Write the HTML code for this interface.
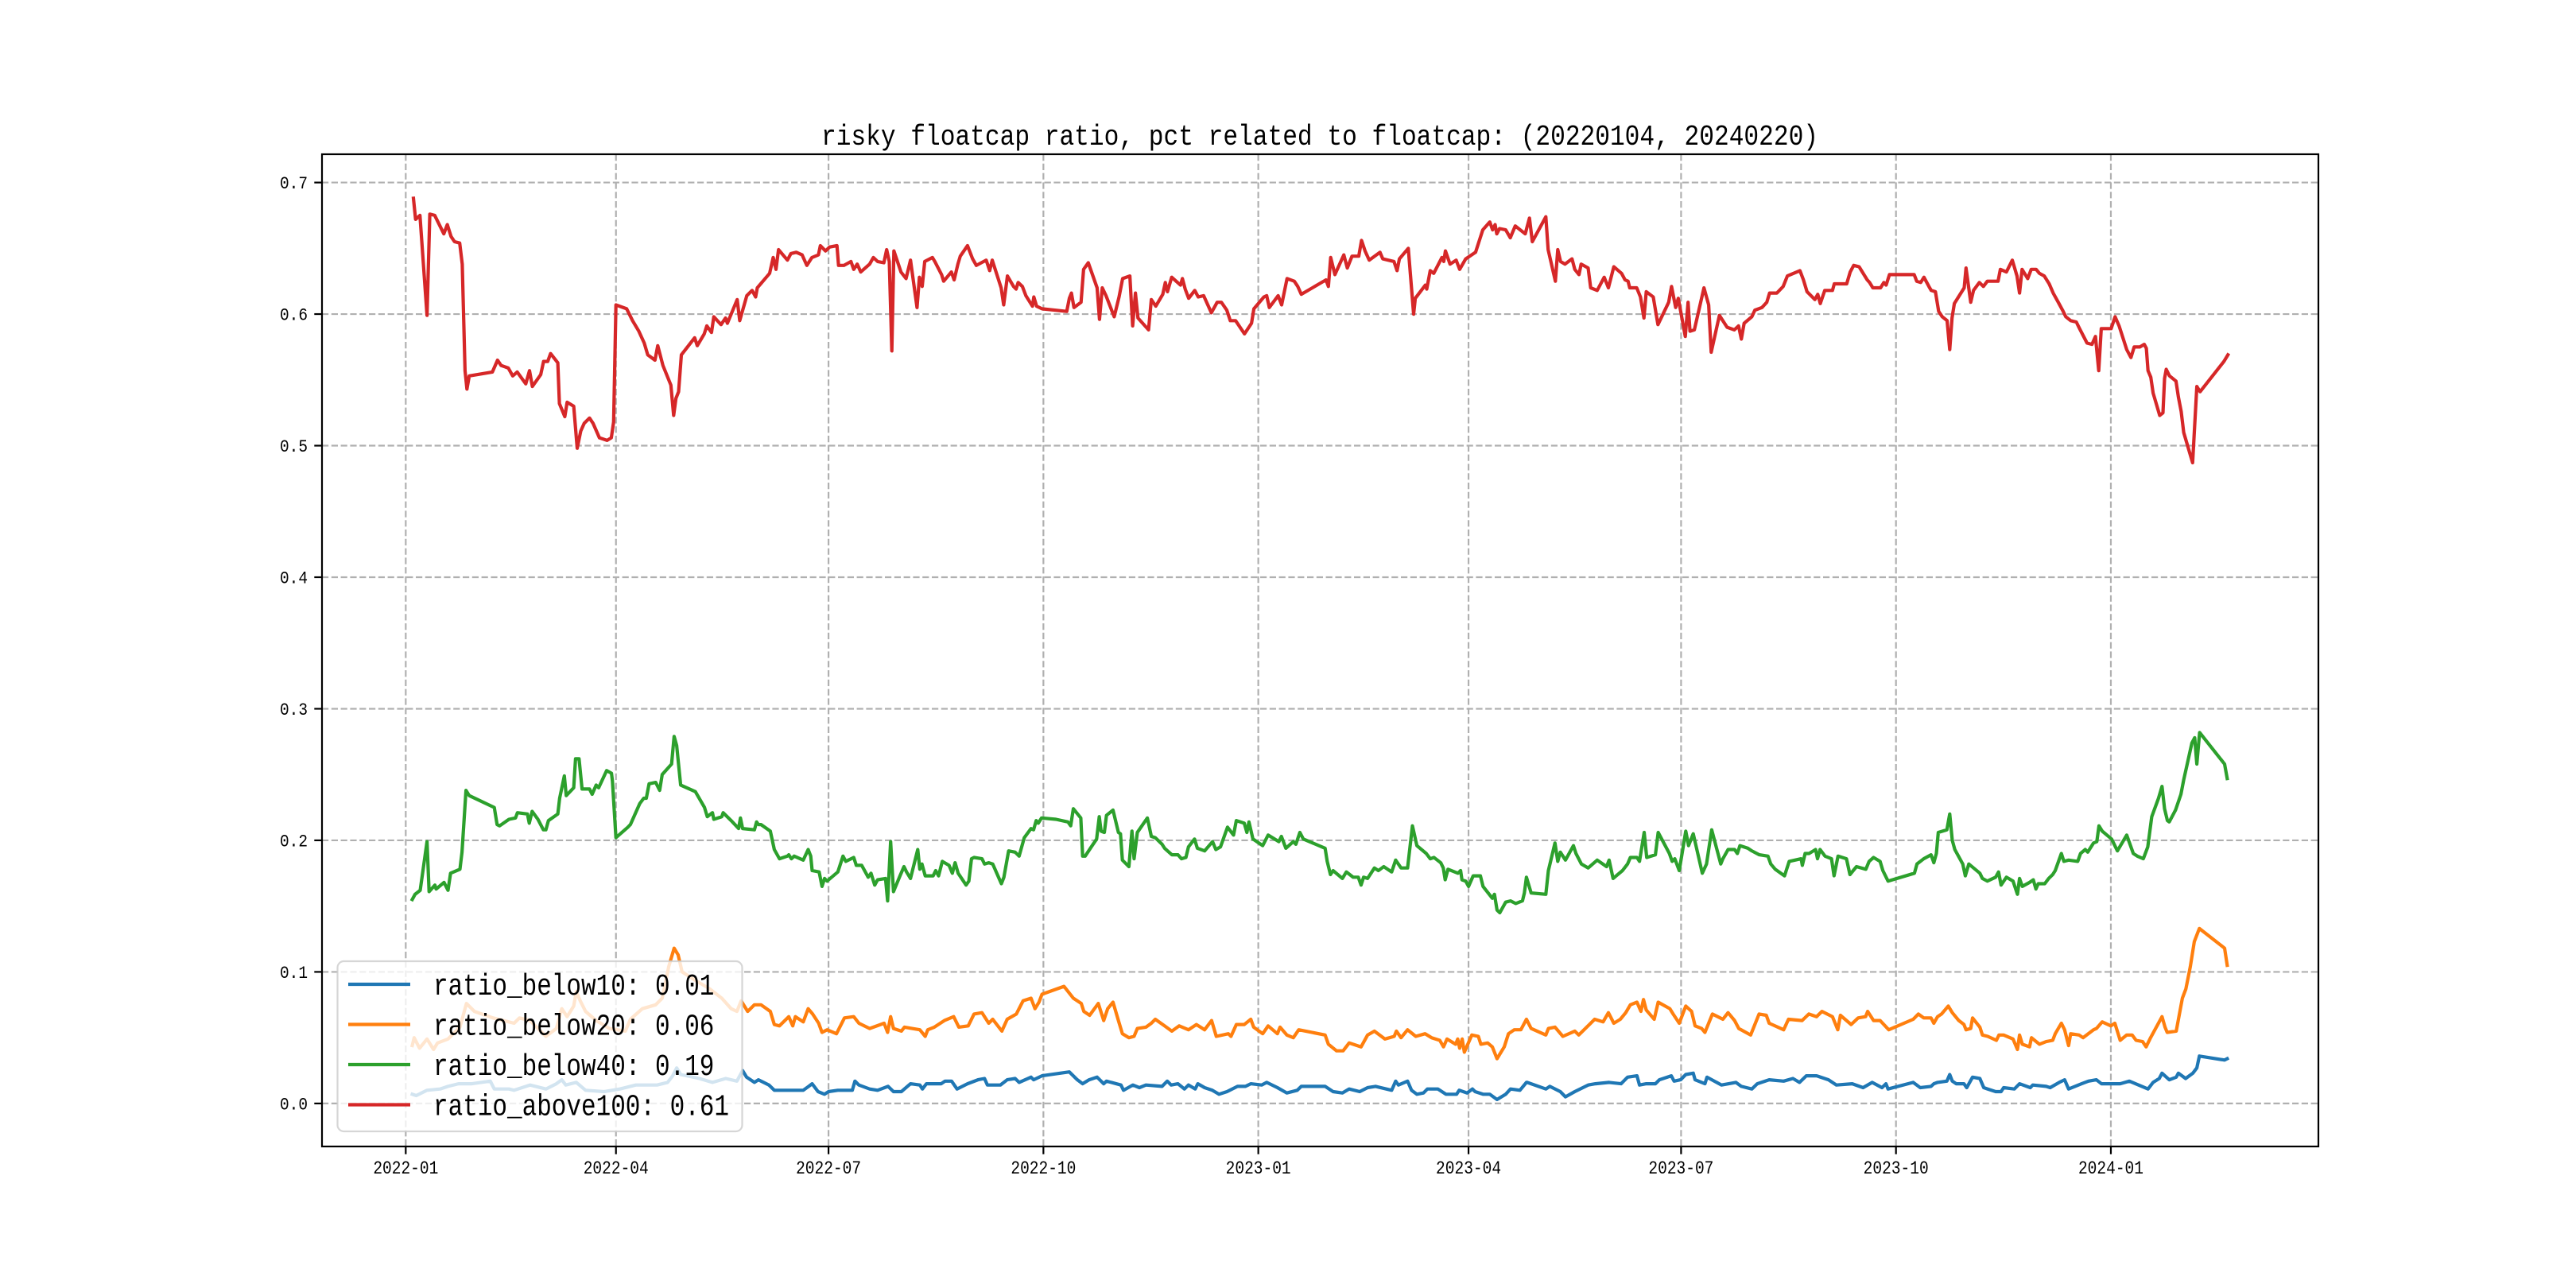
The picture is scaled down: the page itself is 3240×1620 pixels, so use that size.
<!DOCTYPE html>
<html><head><meta charset="utf-8"><style>
html,body{margin:0;padding:0;background:#fff;}
svg{display:block;}
text{font-family:"Liberation Mono","Noto Sans CJK SC",monospace;fill:#000;}
</style></head><body>
<svg id="chart" xmlns="http://www.w3.org/2000/svg" width="3240" height="1620" viewBox="0 0 3240 1620">
<rect x="0" y="0" width="3240" height="1620" fill="#fff"/>
<g id="grid"></g>
<g id="series"></g>
<g id="axes"></g>
<text x="1660" y="182" text-anchor="middle" font-size="36" textLength="1254" lengthAdjust="spacingAndGlyphs">risky floatcap ratio, pct related to floatcap: (20220104, 20240220)</text>
<g id="legend"></g>
</svg>
<script>
// x data: days since 2022-01-01; y data: ratio
const yTicks = [0.0, 0.1, 0.2, 0.3, 0.4, 0.5, 0.6, 0.7];
const yTickLabels = ["0.0","0.1","0.2","0.3","0.4","0.5","0.6","0.7"];
const xTickDays = [0, 90, 181, 273, 365, 455, 546, 638, 730];
const xTickLabels = ["2022-01","2022-04","2022-07","2022-10","2023-01","2023-04","2023-07","2023-10","2024-01"];
const seriesNames = ["ratio_below10", "ratio_below20", "ratio_below40", "ratio_above100"];
const lastValueLabels = ["0.01", "0.06", "0.19", "0.61"];

const below10 = [[2.8,.007],[4.5,.006],[9.1,.010],[14.7,.011],[18.1,.013],[22.6,.015],[28.3,.015],[36.2,.017],[37.9,.011],[44.2,.011],[46.4,.010],[53.2,.014],[60,.011],[64.5,.015],[66.8,.018],[68.5,.014],[73,.016],[77,.010],[84.9,.009],[91.7,.011],[98.5,.014],[107.6,.014],[112.1,.016],[114.3,.021],[116,.027],[117.7,.022],[125.7,.019],[131.3,.016],[137,.019],
[141.8,.017],[144.2,.025],[145.9,.020],[149.3,.016],[151,.018],[155.5,.014],[157.8,.010],[163.4,.010],[170.2,.010],[172.5,.013],[174,.015],[176.5,.009],[179.3,.007],[181,.009],[185,.010],[191.2,.010],[192.3,.017],[194,.014],[198.6,.011],[202,.010],[206.5,.013],[208.8,.009],[212.2,.009],[216.1,.015],[220.1,.014],[221.2,.011],[222.9,.015],[229.2,.015],[230.9,.017],[233.7,.017],[236,.011],[240.5,.015],[245,.018],[247.8,.019],[249,.014],[254.6,.014],[257.5,.018],[260.9,.019],[262.6,.016],[267.7,.020],[268.8,.018],[272.4,.021],[284.1,.024],[287.5,.018],[289.8,.015],[292.6,.018],[296,.020],[298.8,.015],[300,.017],[306.2,.014],[307.3,.010],
[311.3,.014],[314.1,.012],[316.9,.014],[323.8,.013],[326,.017],[327.7,.014],[330.6,.015],[333.4,.011],[335.1,.014],[338,.011],[339.1,.015],[342,.012],[345.3,.010],[348.2,.007],[351.6,.009],[356.1,.013],[359.5,.013],[361.8,.015],[366.4,.014],[368.6,.016],[373.2,.012],[377.2,.008],[381.7,.010],[383.4,.013],[393.6,.013],[397,.009],[401,.008],[403.9,.011],[408.4,.009],[411.8,.012],[415.2,.013],[422.1,.010],[423.8,.017],[425,.014],[428.9,.017],[430.6,.010],[432.9,.007],[435.7,.008],[437.4,.011],[441.9,.011],[445.3,.007],[449.9,.007],[451,.010],[454.4,.008],[456.7,.011],[457.8,.009],[461.2,.007],[464.1,.007],[467.2,.003],[470.9,.007],[473,.011],[477,.010],[479.8,.016],
[480.1,.016],[488.1,.011],[489.8,.013],[494.3,.009],[496.5,.005],[500.5,.009],[506.2,.014],[509.3,.015],[515.2,.016],[520.3,.015],[523.1,.020],[527.1,.021],[528.2,.014],[531.1,.015],[535,.015],[536.7,.018],[541.8,.021],[543,.017],[545.8,.018],[548,.022],[551.2,.023],[552,.018],[556.2,.015],[557.1,.020],[563.3,.014],[569.5,.016],[571.8,.013],[576.3,.011],[578.6,.015],[583.7,.018],[589.9,.017],[593.9,.019],[596.7,.016],[599.6,.021],[604,.021],[609.1,.018],[612.5,.014],[619.3,.015],[623.9,.012],[627.8,.016],[632,.012],[633.7,.015],[634.6,.011],[645.4,.016],[648.4,.012],
[653,.013],[654.2,.015],[655.8,.016],[659.8,.017],[661,.022],[662.1,.017],[663.8,.015],[667.1,.015],[668.3,.012],[670.8,.020],[673.9,.019],[675.6,.012],[677.3,.011],[680.7,.009],[683,.009],[684.1,.012],[688.7,.011],[690.9,.015],[695.5,.012],[696.6,.014],[702.3,.013],[704,.012],[707.9,.016],[710.2,.018],[711.9,.011],[717.5,.015],[720.4,.017],[723.8,.018],[726,.015],[730,.015],[734,.015],[737.9,.017],[745.9,.011],[748.1,.016],[750.7,.019],[751.9,.023],[755,.018],[758,.020],[758.9,.023],[762,.019],[765.1,.023],[766.8,.027],[767.9,.036],[778.7,.033],[779.8,.034]];

const below20 = [[2.8,.044],[3.6,.050],[5.9,.042],[9.1,.049],[11.9,.041],[13.6,.046],[18.1,.049],[23.2,.058],[26,.076],[29.4,.070],[37.4,.065],[46.4,.061],[48.7,.065],[53.2,.063],[57.7,.055],[60,.051],[64.5,.057],[66.8,.072],[69.1,.066],[71.9,.074],[73,.085],[74.7,.078],[77,.070],[81.5,.063],[87.2,.057],[94,.055],[96.2,.064],[101.3,.072],[107,.075],[109.8,.080],[112.6,.104],[114.9,.118],[116.6,.113],[118.3,.100],[124.5,.093],[130.2,.087],[135.3,.080],[139.3,.072],
[141.8,.070],[143.6,.078],[146.4,.070],[149.3,.075],[152.1,.075],[156.1,.070],[157.8,.060],[160,.059],[164,.066],[165.7,.059],[166.8,.066],[170.2,.062],[172.3,.072],[174.2,.068],[176.8,.061],[178.2,.054],[180.4,.056],[184.4,.053],[187.8,.065],[191.8,.066],[194,.061],[198.6,.057],[204.8,.061],[206.3,.054],[207.6,.066],[208.8,.057],[212.2,.055],[213.5,.058],[220.1,.056],[222.4,.051],[223.5,.056],[226.3,.058],[230.6,.063],[234.6,.066],[236.8,.058],[240.8,.059],[243.3,.068],[246.7,.069],[249.6,.061],[251.3,.064],[255.2,.055],[257.5,.064],[261.4,.068],[264.3,.078],[267.7,.080],[269.4,.072],[271.1,.077],[272.4,.083],[281.8,.089],[285.8,.080],[289.2,.076],[290.3,.070],[292.8,.067],[296.5,.076],[298.8,.063],[300.5,.072],[302.8,.077],[305.1,.063],[306.8,.053],[309.6,.050],
[311.8,.051],[313.2,.057],[316.9,.058],[319.2,.061],[320.9,.064],[324.9,.059],[328,.055],[331.1,.059],[335.1,.056],[338.5,.060],[342,.056],[345,.063],[347,.051],[352.2,.053],[353.3,.051],[355.6,.060],[359,.060],[361.8,.064],[363,.058],[366.9,.053],[369.2,.059],[373.2,.053],[374.3,.058],[377.2,.052],[380,.050],[382.3,.056],[393.6,.052],[395,.045],[398.5,.040],[401.3,.040],[403.9,.046],[409,.043],[411.8,.052],[414.7,.055],[419.2,.049],[423.2,.051],[424.1,.055],[426.1,.050],[428.9,.056],[432.4,.051],[436.4,.053],[439.2,.050],[442.7,.048],[444.3,.043],[445.8,.049],[449.5,.045],[450.4,.049],[451.2,.042],[452.3,.049],[453.2,.039],[456.4,.052],[459.2,.051],[460.3,.045],[463.2,.046],[465.2,.043],[467.2,.034],[470.3,.043],[472.1,.053],[474.6,.056],[477.4,.056],[479.8,.064],
[481.8,.057],[488.1,.052],[489.2,.057],[492,.058],[495.4,.051],[500.5,.055],[502.2,.052],[507.3,.061],[509,.064],[512.6,.062],[514.9,.069],[517.2,.061],[520,.064],[522.3,.069],[524.3,.075],[527.1,.077],[528.8,.070],[529.9,.079],[531.1,.071],[534.5,.064],[536.2,.077],[541.2,.072],[542.6,.068],[545.2,.061],[548,.074],[550.5,.070],[552,.059],[554.8,.057],[556.2,.054],[559.4,.068],[563.9,.064],[566.1,.069],[568.9,.063],[570.7,.057],[575.8,.052],[579.4,.068],[582.5,.067],[583.7,.061],[589.9,.056],[592,.064],[597.8,.063],[600.7,.068],[604,.066],[606.3,.070],[610.8,.066],[613.1,.056],[614.2,.067],[618.8,.060],[621.8,.065],[625,.066],[625.9,.070],[628.4,.063],[631.2,.063],[634.9,.056],[645.4,.064],[647.6,.068],[649.9,.065],
[653,.065],[654.2,.061],[655.8,.066],[657.5,.068],[660.4,.074],[662.1,.069],[664.9,.063],[667.1,.060],[668,.056],[670,.057],[670.8,.065],[673.9,.058],[675,.052],[677.3,.051],[681,.048],[682.1,.052],[684.1,.052],[688.1,.049],[690,.041],[690.9,.052],[692.1,.045],[695.2,.043],[696,.050],[699.4,.045],[702.3,.047],[705.1,.048],[706.2,.053],[708.8,.061],[710.2,.056],[711.9,.044],[712.8,.053],[716.4,.052],[718.1,.050],[722.6,.056],[723.8,.057],[726.3,.062],[730,.059],[731.7,.061],[734,.048],[736.8,.052],[739.1,.052],[740.8,.048],[743.6,.047],[745.1,.043],[747,.050],[751.9,.066],[753.2,.058],[754.1,.054],[758,.055],[760.6,.080],[762.1,.087],[764,.104],[765.7,.123],[767.9,.133],[778.7,.118],[779.8,.105]];

const below40 = [[2.8,.155],[4,.159],[6.2,.162],[9.1,.199],[10,.161],[12.5,.166],[13,.163],[16.4,.168],[18.1,.162],[19.2,.175],[23.2,.178],[24.1,.191],[25.8,.238],[27.2,.234],[37.9,.225],[39.1,.212],[40.2,.211],[44.2,.216],[47,.217],[47.8,.221],[52.1,.220],[52.9,.213],[54.1,.222],[56.6,.216],[58.9,.208],[60,.208],[61.1,.215],[65.1,.220],[65.9,.232],[67.9,.249],[68.7,.234],[71.9,.240],[72.7,.262],[74.2,.262],[75.5,.239],[78.7,.239],[79.8,.235],[81.5,.242],[82.6,.240],[86,.253],[88.1,.251],[88.5,.245],[90,.202],[95.1,.210],[96.2,.212],[100.2,.228],[101.9,.232],[103,.232],[104.2,.243],[107,.244],[108.7,.238],[109.8,.250],[113.8,.258],[114.9,.279],[116,.272],[117.7,.242],[124,.237],[127.9,.225],[129.1,.218],[131.3,.221],[131.9,.216],[135.3,.218],[135.9,.221],[139.3,.215],
[142.5,.209],[143.3,.217],[144.2,.209],[149.3,.208],[150.2,.214],[151,.212],[152.1,.212],[156.1,.207],[157.8,.193],[160,.186],[163.4,.188],[164,.189],[165.1,.186],[166.3,.188],[170.2,.185],[172.3,.193],[173.4,.188],[174,.177],[177,.176],[178.2,.165],[179.3,.171],[180.4,.169],[185,.176],[187.2,.188],[188.4,.184],[191.8,.187],[192.9,.181],[195.2,.181],[198,.172],[199.2,.175],[200.8,.166],[202,.170],[205.4,.171],[206.3,.154],[207.6,.199],[208.8,.161],[211.6,.173],[213.3,.180],[214.4,.176],[216.1,.171],[219.2,.193],[220.1,.178],[221,.182],[222.4,.173],[225.8,.173],[226.9,.177],[228.1,.173],[229.7,.184],[232.6,.181],[234,.175],[235.2,.183],[236.5,.175],[239.9,.166],[241.1,.169],[242.2,.186],[243.3,.187],[246.7,.186],[247.8,.182],[249.6,.183],[251.3,.182],[255,.167],[256.1,.172],[258.1,.192],[260.9,.191],[262.6,.188],[264.8,.202],[267.7,.209],[268.8,.208],[269.9,.215],[270.8,.213],[272.2,.217],[278.4,.216],[283.5,.214],[284.7,.211],[285.8,.224],[289,.217],[289.8,.188],[290.9,.188],[293.5,.195],[295.8,.201],[296.9,.218],[297.7,.207],[299.1,.206],[300,.219],[302.8,.223],[305.1,.206],[306,.205],[306.8,.185],[309.6,.180],
[310.9,.207],[311.8,.186],[313.2,.206],[317.5,.217],[318.1,.212],[319.2,.203],[320.9,.202],[323.8,.197],[324.9,.194],[328,.189],[330.6,.189],[332.1,.186],[334,.187],[335.1,.195],[337.7,.201],[338.9,.194],[342,.192],[345.4,.199],[346.8,.193],[348.8,.195],[351.8,.210],[354.4,.204],[355.6,.215],[359,.213],[360.1,.206],[361,.214],[362.7,.201],[366.9,.196],[369.2,.204],[373.8,.199],[374.9,.203],[376.8,.194],[380,.199],[381.1,.197],[382.8,.206],[384.3,.201],[393.6,.194],[394.5,.184],[395.9,.174],[397,.177],[401,.171],[402.7,.176],[405.6,.172],[407.8,.172],[409,.166],[410.1,.172],[411.8,.171],[414.7,.179],[416.4,.177],[418.7,.180],[422.1,.176],[423.8,.185],[426.1,.179],[428.9,.179],[431,.211],[432.9,.196],[436.9,.190],[438.6,.186],[440.2,.187],[443.1,.183],[444.2,.179],[445,.170],[446.2,.178],[450.5,.175],[451.6,.177],[452.2,.170],[453.8,.169],[455,.165],[457,.173],[460.1,.173],[461.2,.165],[465.2,.156],[466.1,.159],[467.2,.147],[468.4,.145],[470.9,.153],[473,.154],[475.2,.152],[478.1,.154],[478.9,.160],[479.8,.172],
[481.8,.160],[488.1,.159],[489.2,.177],[492,.198],[493.2,.184],[494.3,.191],[496.5,.185],[499.9,.196],[501,.190],[503.3,.182],[506.2,.179],[510.1,.185],[514.1,.180],[515.2,.185],[516.9,.171],[520.9,.177],[523.1,.182],[524.3,.187],[527.1,.187],[528.2,.184],[530.2,.206],[531.3,.187],[535,.189],[536.2,.206],[541,.190],[542.2,.184],[543.3,.186],[545.2,.177],[548,.207],[549.2,.196],[551.2,.205],[555.1,.175],[556.9,.182],[559.1,.208],[563,.182],[563.9,.186],[566.1,.193],[568.9,.193],[570.1,.190],[571.2,.196],[574.6,.194],[576.3,.192],[579.5,.189],[583.2,.188],[584.4,.182],[586.3,.178],[590.3,.173],[592.3,.184],[597.4,.186],[597.9,.181],[599.1,.190],[600.8,.190],[603.6,.193],[604.4,.186],[605.5,.193],[607.6,.188],[610.4,.186],[611.5,.173],[613.2,.188],[616.8,.186],[618.3,.174],[621.1,.180],[625.1,.178],[626.5,.184],[628.4,.187],[631.2,.184],[632.4,.177],[634.6,.169],[645.9,.175],[647,.182],[649.9,.186],
[653,.189],[654.2,.183],[655.3,.190],[656.1,.206],[659.8,.208],[661,.220],[662.1,.200],[663.2,.193],[666.6,.182],[667.7,.173],[669.2,.182],[673.9,.175],[675,.171],[677.1,.169],[680.7,.172],[681.9,.176],[683,.166],[685.3,.172],[688.1,.169],[690,.159],[690.9,.171],[692.1,.165],[695.2,.168],[696.8,.170],[697.9,.163],[698.9,.167],[701.7,.167],[703.4,.171],[705.1,.174],[706.2,.177],[708.8,.190],[709.9,.184],[711.9,.185],[715.8,.184],[717,.190],[719,.193],[720.1,.191],[722.6,.198],[724,.199],[724.9,.211],[726.3,.207],[730.3,.201],[732.8,.192],[736.8,.204],[739.6,.190],[741.3,.188],[743.9,.186],[745.8,.195],[747.5,.218],[750.4,.232],[751.9,.241],[753,.224],[754.2,.215],[755,.214],[757.7,.223],[760,.235],[761.2,.246],[764.7,.274],[765.9,.278],[766.8,.258],[768,.282],[778.7,.258],[779.8,.247]];

const above100 = [[3.3,.688],[4.2,.672],[6.1,.675],[9.1,.599],[10.3,.676],[12.4,.675],[16.3,.661],[17.8,.668],[19.4,.659],[20.9,.655],[23.1,.654],[24.2,.638],[25.4,.557],[26.2,.543],[27.2,.553],[37.1,.556],[39.3,.565],[40.8,.561],[43.9,.559],[45.8,.553],[47.7,.556],[51.4,.547],[53,.557],[54.2,.545],[57.8,.554],[59,.564],[60.8,.564],[62,.570],[65.1,.563],[65.8,.532],[68.1,.522],[69.1,.533],[71.9,.530],[73.4,.498],[74.9,.511],[76.4,.517],[78.7,.521],[80.2,.517],[82.9,.506],[86.2,.504],[88,.506],[89,.518],[90,.607],[94.6,.604],[97.1,.595],[99.8,.587],[102.1,.578],[103.6,.569],[106.7,.565],[107.9,.576],[110.1,.561],[113.5,.546],[114.7,.523],[115.7,.536],[116.8,.541],[118,.569],[123.7,.582],[124.8,.576],[127.8,.585],[128.9,.591],[130.9,.586],[131.9,.598],[135,.592],[136.9,.597],[137.7,.593],[141.9,.611],[143,.595],[146,.614],[148.3,.618],[149.8,.613],[150.5,.620],[155.8,.631],[157.3,.643],[158.5,.634],[159.6,.649],[163.4,.641],[164.9,.646],[167.2,.647],[169.7,.645],[171.7,.637],[173.9,.643],[176.7,.645],[177.5,.652],[179.7,.648],[181.5,.651],[184.6,.652],[185.3,.637],[187.6,.637],[190.6,.640],[191.8,.634],[193.3,.638],
[194.8,.632],[198.6,.638],[200.2,.643],[202,.640],[204.7,.639],[205.9,.649],[207,.640],[208.1,.572],[209,.648],[212,.632],[214.2,.627],[216.1,.641],[218.9,.605],[219.9,.628],[221.1,.621],[222.2,.640],[225.5,.643],[226.5,.640],[229.4,.630],[230.3,.625],[233.6,.632],[234.8,.626],[236.4,.638],[237.4,.644],[240.5,.652],[242.7,.642],[244.3,.637],[248.5,.641],[250,.633],[251.1,.641],[254.9,.620],[256,.607],[257.6,.629],[260.2,.621],[261.3,.619],[262.2,.624],[264,.621],[265.5,.614],[268.3,.606],[268.9,.613],[270.1,.606],[272.4,.604],[283,.602],[284.1,.612],[285,.616],[286.1,.605],[289.1,.609],[290.2,.634],[292.2,.639],[296,.620],[297,.596],[298.2,.620],[299.8,.614],[303.3,.598],[305.4,.613],[306.9,.627],[310,.629],[311.2,.591],[312.4,.616],[313.5,.597],[318,.588],[319.2,.611],[321.1,.606],[324.1,.615],[325.2,.624],[326.1,.617],[327.9,.628],[331.7,.622],[332.5,.627],[333.7,.619],[335.2,.612],[337.8,.618],[339.3,.613],[341.6,.614],[344.9,.601],[347.4,.609],[349.2,.609],[351.5,.603],[353,.595],[355.3,.595],[359.1,.585],[362.1,.593],[363.1,.604],[367.4,.613],[368.6,.614],[369.7,.605],[373.5,.614],[375,.607],[377.3,.627],[380.4,.625],[381.9,.621],[383.4,.615],[394,.626],[395,.621],[396,.643],[397.8,.630],[401.6,.645],[403.1,.635],[405.1,.644],
[408,.644],[409.2,.656],[410.7,.648],[412.5,.641],[417.1,.647],[418.3,.642],[423.1,.640],[424.4,.633],[425.4,.642],[429.2,.650],[431.5,.600],[432.2,.612],[436.5,.622],[437.1,.619],[438.6,.633],[440.1,.631],[443.6,.643],[444.4,.640],[445.1,.648],[447.1,.638],[449.7,.641],[451.2,.634],[453.8,.642],[458,.647],[461.1,.664],[464.1,.670],[465.3,.664],[466.4,.668],[467.1,.661],[468.3,.665],[470.9,.664],[472.9,.658],[475,.667],[479.3,.661],[481.1,.673],[482.3,.655],[488.1,.674],[489.1,.649],[492.2,.625],[493.2,.649],[494.4,.640],[496.3,.638],[499.3,.642],[500.5,.634],[502.3,.630],[503.2,.638],[506.2,.635],[507.3,.620],[510.1,.618],[513.1,.628],[514.9,.620],[517.2,.636],[520.5,.631],[522,.626],[523.3,.625],[524,.620],[527,.620],[528.6,.613],[530.1,.597],[531.1,.617],[534.1,.613],[536.1,.592],[540.7,.609],[541.9,.621],[543.7,.605],[544.8,.612],[547.8,.583],[549,.609],[549.8,.587],[551.7,.588],[555.8,.620],[557.8,.607],[558.9,.571],[562.4,.599],[565.7,.590],[568.8,.588],[570.6,.591],[571.8,.581],[573,.593],[576.3,.598],[577.6,.603],[580.6,.605],[582.7,.609],[583.9,.616],[587,.616],[589.7,.621],[591.5,.629],[596.9,.633],[598.4,.626],[599.9,.617],[603.3,.611],[604.5,.615],[605.6,.608],[607.5,.618],[610.8,.618],[611.6,.623],[616.9,.623],[618.4,.632],[619.9,.637],[622.2,.636],[625.7,.626],
[626.7,.624],[628.1,.620],[631.4,.620],[632.8,.624],[633.8,.622],[635.2,.630],[645.8,.630],[646.9,.625],[648.6,.624],[650,.628],[652.1,.621],[653.1,.618],[654.9,.617],[656.3,.602],[657.8,.598],[659.9,.595],[661,.573],[662,.597],[663,.608],[667.2,.620],[668,.635],[670,.609],[671.2,.618],[673.7,.624],[675.4,.621],[677.1,.625],[681.7,.625],[682.7,.634],[685.3,.632],[687.8,.641],[689.8,.629],[690.9,.616],[692,.634],[694.4,.627],[695.9,.634],[698,.634],[699.4,.631],[701.5,.629],[703.6,.623],[705.3,.616],[707.8,.608],[709.3,.603],[710.7,.598],[712.8,.595],[715.2,.594],[716.6,.589],[719.8,.578],[721.9,.577],[723.4,.583],[724.8,.557],[725.9,.589],[730.1,.589],[731.8,.598],[733.5,.591],[736.8,.573],[738.6,.567],[740,.575],[742.4,.575],[744.3,.577],[745.2,.574],[745.9,.557],[747.1,.552],[748.1,.540],[750.9,.523],[752.3,.525],[753,.551],[753.7,.558],[755.1,.553],[757.9,.549],[758.9,.537],[760.1,.526],[761.2,.510],[765,.487],[766.8,.545],[768.2,.541],[778.4,.564],[780.1,.569]];

const seriesData = [below10, below20, below40, above100];
const seriesColors = ["#1f77b4", "#ff7f0e", "#2ca02c", "#d62728"];

const AX = {left: 405, right: 2916, top: 194, bottom: 1442};
const XMIN = -35.85, XMAX = 818.85, YMIN = -0.0327, YMAX = 0.7215;
function xScale(d){ return AX.left + (d - XMIN) / (XMAX - XMIN) * (AX.right - AX.left); }
function yScale(v){ return AX.bottom - (v - YMIN) / (YMAX - YMIN) * (AX.bottom - AX.top); }

const NS = "http://www.w3.org/2000/svg";
function mk(tag, attrs, parent){
  const el = document.createElementNS(NS, tag);
  for (const k in attrs) el.setAttribute(k, attrs[k]);
  parent.appendChild(el);
  return el;
}
const gGrid = document.getElementById('grid');
const gSeries = document.getElementById('series');
const gAxes = document.getElementById('axes');
const gLegend = document.getElementById('legend');

yTicks.forEach((t, i) => {
  const y = yScale(t);
  const ln = mk('line', {x1: AX.left, x2: AX.right, y1: y, y2: y, stroke: '#b0b0b0', 'stroke-width': 2.2, 'stroke-dasharray': '8.2,3.6'}, gGrid);
  
  
});
xTickDays.forEach((d, i) => {
  const x = xScale(d);
  const ln = mk('line', {x1: x, x2: x, y1: AX.top, y2: AX.bottom, stroke: '#b0b0b0', 'stroke-width': 2.2, 'stroke-dasharray': '8.2,3.6'}, gGrid);
  
  
});

seriesData.forEach((s, i) => {
  const pts = s.map(p => xScale(p[0]).toFixed(1) + ',' + yScale(p[1]).toFixed(1)).join(' ');
  const pl = mk('polyline', {points: pts, fill: 'none', stroke: seriesColors[i], 'stroke-width': 4.2, 'stroke-linejoin': 'round', 'stroke-linecap': 'square'}, gSeries);
  
  
});

const frame = mk('rect', {x: AX.left, y: AX.top, width: AX.right - AX.left, height: AX.bottom - AX.top, fill: 'none', stroke: '#000', 'stroke-width': 2.2}, gAxes);


yTicks.forEach((t, i) => {
  const y = yScale(t);
  const tk = mk('line', {x1: AX.left - 9.7, x2: AX.left, y1: y, y2: y, stroke: '#000', 'stroke-width': 2.2}, gAxes);
  
  
  const tx = mk('text', {x: 387, y: y + 7.5, 'text-anchor': 'end', 'font-size': 22, textLength: 35, lengthAdjust: 'spacingAndGlyphs'}, gAxes);
  tx.textContent = yTickLabels[i];
  
  
});
xTickDays.forEach((d, i) => {
  const x = xScale(d);
  const tk = mk('line', {x1: x, x2: x, y1: AX.bottom, y2: AX.bottom + 9.7, stroke: '#000', 'stroke-width': 2.2}, gAxes);
  
  
  const tx = mk('text', {x: x, y: 1476, 'text-anchor': 'middle', 'font-size': 23, textLength: 82, lengthAdjust: 'spacingAndGlyphs'}, gAxes);
  tx.textContent = xTickLabels[i];
  
  
});

const box = mk('rect', {x: 424.5, y: 1209, width: 509, height: 214, rx: 8, ry: 8, fill: '#fff', 'fill-opacity': 0.8, stroke: '#cccccc', 'stroke-opacity': 0.8, 'stroke-width': 2.2}, gLegend);


seriesNames.forEach((n, i) => {
  const y = 1238 + i * 50.5;
  const g = mk('g', {}, gLegend);
  
  
  const ln = mk('line', {x1: 438, x2: 516, y1: y, y2: y, stroke: seriesColors[i], 'stroke-width': 4.2}, g);
  
  
  const label = n + ': ' + lastValueLabels[i];
  const tx = mk('text', {x: 545, y: y + 13, 'font-size': 38, textLength: (label.length * 18.6).toFixed(1), lengthAdjust: 'spacingAndGlyphs'}, g);
  tx.textContent = label;
  
  
});
</script>
</body></html>
